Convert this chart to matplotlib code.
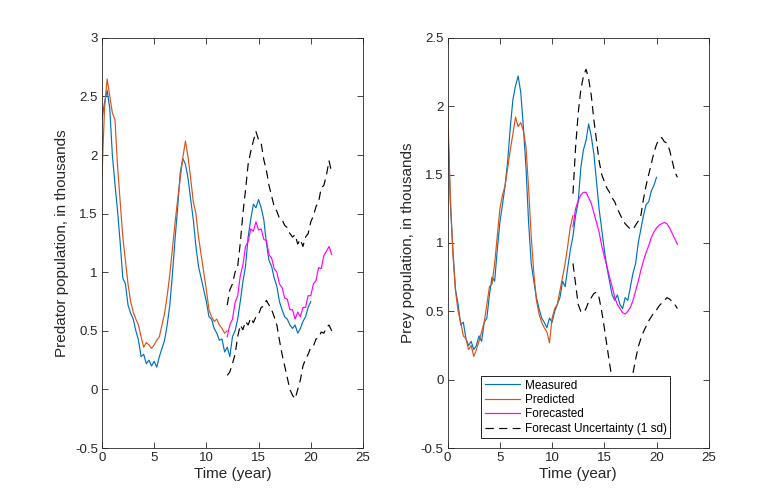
import numpy as np
import matplotlib
matplotlib.use("Agg")
import matplotlib.pyplot as plt
from matplotlib.ticker import FormatStrFormatter

plt.rcParams['font.family'] = ['Liberation Sans', 'DejaVu Sans']

# ---------------- data ----------------
step = 0.25
t_meas = np.arange(0, 20 + 1e-9, step)
t_pred = np.arange(0, 12 + 1e-9, step)
t_fc = np.arange(12, 22 + 1e-9, step)

pred_measured = [2.30, 2.45, 2.55, 2.40, 2.00, 1.75, 1.52, 1.25, 0.95, 0.90, 0.72, 0.65,
                 0.60, 0.50, 0.42, 0.28, 0.30, 0.22, 0.25, 0.20, 0.24, 0.19, 0.28, 0.35,
                 0.42, 0.55, 0.72, 0.98, 1.28, 1.55, 1.85, 1.97, 1.92, 1.80, 1.62, 1.45,
                 1.22, 1.05, 0.95, 0.85, 0.75, 0.62, 0.60, 0.52, 0.48, 0.42, 0.43, 0.32,
                 0.36, 0.28, 0.45, 0.50, 0.60, 0.75, 0.92, 1.05, 1.30, 1.45, 1.58, 1.55,
                 1.62, 1.55, 1.45, 1.25, 1.10, 1.05, 0.95, 0.88, 0.75, 0.68, 0.62, 0.60,
                 0.55, 0.52, 0.55, 0.48, 0.52, 0.58, 0.62, 0.70, 0.75]
pred_predicted = [1.80, 2.40, 2.65, 2.50, 2.36, 2.30, 1.90, 1.60, 1.30, 1.10, 0.90, 0.75,
                  0.66, 0.60, 0.55, 0.45, 0.36, 0.40, 0.38, 0.35, 0.38, 0.42, 0.45, 0.55,
                  0.65, 0.80, 0.98, 1.20, 1.42, 1.62, 1.80, 1.98, 2.12, 1.98, 1.80, 1.60,
                  1.50, 1.30, 1.15, 1.00, 0.85, 0.68, 0.62, 0.58, 0.60, 0.55, 0.52, 0.48,
                  0.50]
pred_forecast = [0.45, 0.55, 0.60, 0.74, 0.80, 0.97, 1.06, 1.22, 1.26, 1.37, 1.35, 1.43,
                 1.36, 1.37, 1.28, 1.27, 1.15, 1.12, 1.03, 1.00, 0.90, 0.87, 0.78, 0.77,
                 0.68, 0.68, 0.60, 0.66, 0.62, 0.70, 0.70, 0.80, 0.80, 0.90, 0.93, 1.04,
                 1.03, 1.14, 1.18, 1.22, 1.15]
pred_upper = [0.72, 0.85, 0.90, 1.00, 1.05, 1.25, 1.50, 1.70, 1.92, 2.03, 2.12, 2.20,
              2.13, 2.10, 1.96, 1.87, 1.74, 1.65, 1.56, 1.52, 1.46, 1.45, 1.40, 1.38,
              1.33, 1.30, 1.32, 1.24, 1.28, 1.22, 1.30, 1.33, 1.43, 1.48, 1.56, 1.60,
              1.72, 1.74, 1.83, 1.95, 1.85]
pred_lower = [0.12, 0.15, 0.22, 0.30, 0.45, 0.55, 0.51, 0.58, 0.55, 0.61, 0.57, 0.62,
              0.64, 0.70, 0.71, 0.76, 0.72, 0.68, 0.62, 0.55, 0.42, 0.30, 0.20, 0.10,
              0.00, -0.05, -0.08, 0.00, 0.08, 0.20, 0.26, 0.30, 0.36, 0.37, 0.43, 0.44,
              0.49, 0.48, 0.53, 0.55, 0.50]

prey_measured = [1.90, 1.30, 0.95, 0.66, 0.55, 0.40, 0.42, 0.30, 0.25, 0.28, 0.22, 0.25,
                 0.32, 0.28, 0.42, 0.45, 0.62, 0.75, 0.72, 0.95, 1.15, 1.28, 1.42, 1.60,
                 1.85, 2.05, 2.15, 2.22, 2.10, 1.85, 1.55, 1.15, 0.85, 0.72, 0.60, 0.52,
                 0.45, 0.42, 0.38, 0.45, 0.42, 0.50, 0.55, 0.60, 0.72, 0.68, 0.82, 0.95,
                 1.05, 1.20, 1.30, 1.55, 1.68, 1.75, 1.87, 1.78, 1.65, 1.45, 1.25, 1.10,
                 0.95, 0.82, 0.72, 0.62, 0.58, 0.62, 0.55, 0.52, 0.60, 0.58, 0.68, 0.78,
                 0.85, 1.00, 1.10, 1.20, 1.28, 1.30, 1.38, 1.42, 1.48]
prey_predicted = [2.00, 1.35, 0.92, 0.65, 0.50, 0.42, 0.32, 0.30, 0.22, 0.25, 0.17, 0.22,
                  0.28, 0.35, 0.42, 0.55, 0.68, 0.70, 0.85, 1.05, 1.25, 1.35, 1.42, 1.55,
                  1.68, 1.80, 1.92, 1.85, 1.88, 1.82, 1.70, 1.40, 1.05, 0.78, 0.58, 0.48,
                  0.42, 0.38, 0.35, 0.27, 0.45, 0.52, 0.55, 0.65, 0.75, 0.85, 0.98, 1.12,
                  1.20]
prey_forecast = [1.12, 1.25, 1.31, 1.35, 1.37, 1.37, 1.33, 1.29, 1.22, 1.15, 1.08, 0.98,
                 0.90, 0.83, 0.75, 0.68, 0.60, 0.55, 0.52, 0.49, 0.48, 0.50, 0.53, 0.58,
                 0.65, 0.72, 0.80, 0.87, 0.93, 0.98, 1.04, 1.08, 1.11, 1.13, 1.14, 1.15,
                 1.14, 1.11, 1.07, 1.03, 0.99]
prey_upper = [1.36, 1.70, 1.95, 2.12, 2.22, 2.27, 2.20, 2.08, 1.90, 1.75, 1.60, 1.50,
              1.45, 1.40, 1.37, 1.33, 1.30, 1.25, 1.21, 1.17, 1.14, 1.12, 1.10, 1.10,
              1.13, 1.16, 1.20, 1.32, 1.42, 1.50, 1.58, 1.66, 1.72, 1.76, 1.77, 1.74,
              1.73, 1.68, 1.60, 1.52, 1.48]
prey_lower = [0.85, 0.70, 0.55, 0.50, 0.49, 0.52, 0.57, 0.60, 0.63, 0.64, 0.60, 0.50,
              0.38, 0.25, 0.12, 0.00, -0.10, -0.18, -0.22, -0.25, -0.22, -0.15, -0.05, 0.05,
              0.15, 0.24, 0.30, 0.35, 0.39, 0.43, 0.46, 0.49, 0.51, 0.54, 0.56, 0.58,
              0.60, 0.59, 0.57, 0.55, 0.52]

# ---------------- styling ----------------
C_MEAS = '#0072BD'
C_PRED = '#D95319'
C_FC = '#FF00FF'
AX_C = '#262626'
LW = 0.85
DASH = (7, 4.5)

fig = plt.figure(figsize=(7.84, 5.04), dpi=100)
ax1 = fig.add_axes([0.130, 0.111, 0.333, 0.814])
ax2 = fig.add_axes([0.571, 0.111, 0.333, 0.814])


def style(ax, ylim, yticks, ylabel):
    ax.set_xlim(0, 25)
    ax.set_ylim(*ylim)
    ax.set_xticks([0, 5, 10, 15, 20, 25])
    ax.set_yticks(yticks)
    ax.yaxis.set_major_formatter(FormatStrFormatter('%g'))
    ax.tick_params(direction='in', top=True, right=True, length=4, width=0.6,
                   colors=AX_C, labelsize=9.5, pad=3)
    for s in ax.spines.values():
        s.set_color(AX_C)
        s.set_linewidth(0.6)
    ax.set_xlabel('Time (year)', fontsize=11, color=AX_C, labelpad=2)
    ax.set_ylabel(ylabel, fontsize=11, color=AX_C, labelpad=4)


# left: predator
ax1.plot(t_meas, pred_measured, color=C_MEAS, lw=LW)
ax1.plot(t_pred, pred_predicted, color=C_PRED, lw=LW)
ax1.plot(t_fc, pred_forecast, color=C_FC, lw=LW)
ax1.plot(t_fc, pred_upper, color='k', lw=LW, dashes=DASH)
ax1.plot(t_fc, pred_lower, color='k', lw=LW, dashes=DASH)
style(ax1, (-0.5, 3), np.arange(-0.5, 3.01, 0.5), 'Predator population, in thousands')

# right: prey
h1, = ax2.plot(t_meas, prey_measured, color=C_MEAS, lw=LW, label='Measured')
h2, = ax2.plot(t_pred, prey_predicted, color=C_PRED, lw=LW, label='Predicted')
h3, = ax2.plot(t_fc, prey_forecast, color=C_FC, lw=LW, label='Forecasted')
h4, = ax2.plot(t_fc, prey_upper, color='k', lw=LW, dashes=DASH,
               label='Forecast Uncertainty (1 sd)')
ax2.plot(t_fc, prey_lower, color='k', lw=LW, dashes=DASH)
style(ax2, (-0.5, 2.5), np.arange(-0.5, 2.51, 0.5), 'Prey population, in thousands')

leg = ax2.legend(handles=[h1, h2, h3, h4], loc='lower left',
                 bbox_to_anchor=(0.128, 0.024),
                 fontsize=8.5, frameon=True, fancybox=False, framealpha=1,
                 edgecolor='k', borderpad=0.3, labelspacing=0.2,
                 handlelength=3.0, handletextpad=0.4, borderaxespad=0)
leg.get_frame().set_linewidth(0.6)
leg.set_zorder(5)

fig.savefig('out.png', dpi=100)
